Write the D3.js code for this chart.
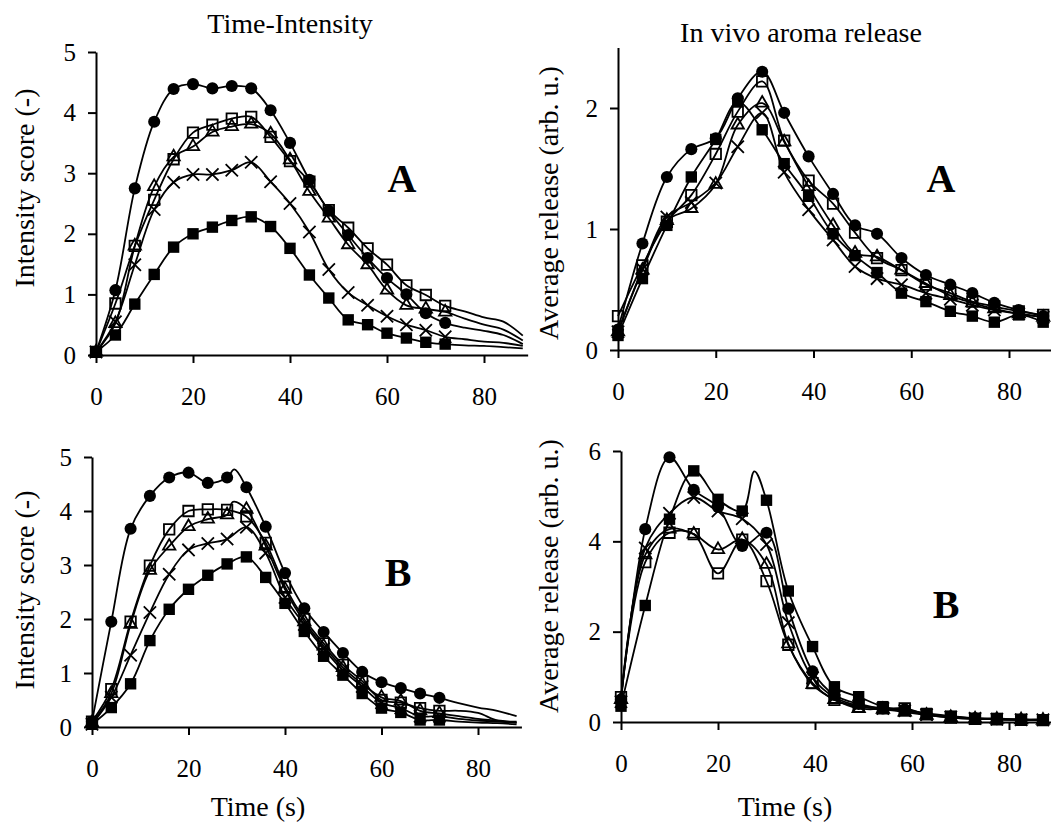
<!DOCTYPE html>
<html lang="en">
<head>
<meta charset="UTF-8">
<title>Time-Intensity and in vivo aroma release</title>
<script src="https://d3js.org/d3.v7.min.js"></script>
<style>
  body { margin: 0; background: #fff; }
  svg { display: block; font-family: "Liberation Serif", "Times New Roman", serif; }
  .axis path, .axis line { stroke: #000; stroke-width: 2; }
  .axis text { font-size: 25px; fill: #000; font-family: "Liberation Serif", "Times New Roman", serif; }
</style>
</head>
<body>
<script>
// ---- Time-Intensity, panel A (markers every 4 s) ----
const tiTimes = [0, 4, 8, 12, 16, 20, 24, 28, 32, 36, 40, 44, 48, 52, 56, 60, 64, 68, 72];
const tiTailTimes = [76, 80, 84, 88];
const tiA_fillCircle = [0.05, 1.07, 2.75, 3.85, 4.39, 4.47, 4.40, 4.44, 4.40, 4.04, 3.50, 2.89, 2.38, 1.98, 1.60, 1.27, 1.00, 0.69, 0.53];
const tiA_openSquare = [0.05, 0.85, 1.80, 2.56, 3.23, 3.67, 3.80, 3.90, 3.93, 3.60, 3.20, 2.86, 2.39, 2.10, 1.76, 1.49, 1.15, 0.99, 0.81];
const tiA_triangle   = [0.05, 0.52, 1.80, 2.78, 3.27, 3.44, 3.68, 3.77, 3.81, 3.65, 3.22, 2.70, 2.26, 1.82, 1.49, 1.07, 0.82, 0.76, 0.71];
const tiA_cross      = [0.05, 0.55, 1.49, 2.40, 2.85, 2.98, 2.98, 3.05, 3.18, 2.86, 2.50, 2.03, 1.41, 1.03, 0.82, 0.64, 0.50, 0.41, 0.30];
const tiA_fillSquare = [0.05, 0.33, 0.84, 1.33, 1.78, 2.00, 2.11, 2.22, 2.28, 2.12, 1.76, 1.32, 0.94, 0.58, 0.50, 0.36, 0.28, 0.21, 0.18];
const tiA_fillCircleTail = [0.45, 0.40, 0.33, 0.18];
const tiA_openSquareTail = [0.72, 0.62, 0.55, 0.32];
const tiA_triangleTail   = [0.60, 0.50, 0.42, 0.24];
const tiA_crossTail      = [0.26, 0.22, 0.20, 0.15];
const tiA_fillSquareTail = [0.16, 0.15, 0.13, 0.11];

// ---- Time-Intensity, panel B ----
const tiB_fillCircle = [0.10, 1.95, 3.67, 4.28, 4.62, 4.71, 4.52, 4.62, 4.44, 3.71, 2.85, 2.20, 1.76, 1.37, 1.02, 0.83, 0.72, 0.62, 0.54];
const tiB_openSquare = [0.10, 0.70, 1.95, 2.99, 3.66, 4.00, 4.03, 4.02, 3.90, 3.41, 2.60, 2.00, 1.55, 1.15, 0.85, 0.50, 0.45, 0.35, 0.30];
const tiB_triangle   = [0.08, 0.62, 1.90, 2.90, 3.35, 3.71, 3.85, 3.93, 4.03, 3.35, 2.55, 1.95, 1.50, 1.10, 0.80, 0.55, 0.48, 0.30, 0.25];
const tiB_cross      = [0.05, 0.55, 1.33, 2.12, 2.83, 3.28, 3.40, 3.48, 3.70, 3.22, 2.40, 1.90, 1.45, 1.05, 0.75, 0.45, 0.35, 0.20, 0.20];
const tiB_fillSquare = [0.05, 0.36, 0.80, 1.60, 2.18, 2.55, 2.81, 3.02, 3.15, 2.77, 2.29, 1.77, 1.31, 0.96, 0.62, 0.35, 0.27, 0.13, 0.13];
const tiB_fillCircleTail = [0.44, 0.36, 0.30, 0.20];
const tiB_openSquareTail = [0.30, 0.26, 0.12, 0.10];
const tiB_triangleTail   = [0.20, 0.15, 0.12, 0.08];
const tiB_crossTail      = [0.15, 0.12, 0.10, 0.08];
const tiB_fillSquareTail = [0.10, 0.08, 0.07, 0.05];
const tiB_fillCircleExtra = [[29.5, 4.77]];
const tiB_triangleExtra   = [[29.2, 4.17]];

// ---- In vivo aroma release, panel A (markers about every 5 s) ----
const arTimesA = [0, 5, 10, 15, 20, 24.5, 29.5, 34, 39, 44, 48.5, 53, 58, 63, 68, 72.5, 77, 82, 87];
const arA_fillCircle = [0.17, 0.88, 1.43, 1.66, 1.75, 2.08, 2.30, 1.96, 1.60, 1.29, 1.03, 0.96, 0.76, 0.62, 0.54, 0.47, 0.39, 0.33, 0.28];
const arA_openSquare = [0.28, 0.70, 1.06, 1.28, 1.62, 1.97, 2.22, 1.73, 1.40, 1.21, 0.97, 0.76, 0.66, 0.54, 0.47, 0.40, 0.36, 0.32, 0.29];
const arA_triangle   = [0.15, 0.66, 1.07, 1.17, 1.37, 1.86, 2.04, 1.72, 1.35, 1.03, 0.80, 0.77, 0.66, 0.55, 0.45, 0.39, 0.34, 0.30, 0.27];
const arA_cross      = [0.15, 0.67, 1.10, 1.22, 1.38, 1.68, 1.96, 1.47, 1.16, 0.91, 0.69, 0.59, 0.54, 0.47, 0.42, 0.37, 0.33, 0.30, 0.27];
const arA_fillSquare = [0.12, 0.59, 1.03, 1.43, 1.74, 2.05, 1.82, 1.54, 1.27, 0.96, 0.78, 0.64, 0.47, 0.40, 0.32, 0.28, 0.23, 0.29, 0.23];

// ---- In vivo aroma release, panel B ----
const arTimesB = [0, 5, 10, 15, 20, 25, 30, 34.5, 39.5, 44, 49, 54, 58.5, 63, 68, 73, 77.5, 82.5, 87];
const arB_fillCircle = [0.50, 4.27, 5.86, 5.14, 4.76, 3.90, 4.19, 2.51, 1.12, 0.60, 0.40, 0.30, 0.28, 0.18, 0.12, 0.08, 0.06, 0.05, 0.05];
const arB_openSquare = [0.55, 3.54, 4.19, 4.16, 3.29, 4.04, 3.12, 1.71, 0.86, 0.49, 0.34, 0.30, 0.30, 0.17, 0.10, 0.07, 0.06, 0.05, 0.04];
const arB_triangle   = [0.50, 3.70, 4.27, 4.16, 3.82, 4.04, 3.49, 1.73, 0.83, 0.50, 0.30, 0.28, 0.22, 0.15, 0.10, 0.07, 0.06, 0.05, 0.04];
const arB_cross      = [0.45, 3.85, 4.62, 4.97, 4.67, 4.50, 3.93, 2.20, 0.98, 0.55, 0.36, 0.30, 0.25, 0.16, 0.11, 0.08, 0.06, 0.05, 0.05];
const arB_fillSquare = [0.35, 2.58, 4.49, 5.56, 4.93, 4.67, 4.91, 2.90, 1.67, 0.78, 0.56, 0.34, 0.25, 0.19, 0.13, 0.08, 0.08, 0.05, 0.05];
const arB_fillSquareExtra = [[27.5, 5.55]];

const xTicks = [0, 20, 40, 60, 80];

const W = 1051, H = 825;
const svg = d3.select('body').append('svg').attr('width', W).attr('height', H);

// turn arrays into one series object
function series(times, values, shape, tailTimes, tail, extra) {
  const marks = times.map((t, i) => [t, values[i]]);
  let pts = marks.slice();
  if (tailTimes && tail) pts = pts.concat(tailTimes.map((t, i) => [t, tail[i]]));
  if (extra) pts = pts.concat(extra);
  pts.sort((a, b) => a[0] - b[0]);
  return { marks, pts, shape };
}

const symbols = {
  fillCircle: { type: d3.symbolCircle, size: 115, fill: '#000', stroke: 'none' },
  fillSquare: { type: d3.symbolSquare, size: 130, fill: '#000', stroke: 'none' },
  openSquare: { type: d3.symbolSquare, size: 110, fill: 'none', stroke: '#000' },
  triangle:   { type: d3.symbolTriangle, size: 66, fill: 'none', stroke: '#000' },
  cross:      { type: d3.symbolTimes, size: 100, fill: 'none', stroke: '#000' }
};

function panel(cfg, list) {
  const x = d3.scaleLinear().domain([0, cfg.xMax]).range([cfg.x0, cfg.x0 + cfg.k * cfg.xMax]);
  const y = d3.scaleLinear().domain([0, cfg.yMax]).range([cfg.yBottom, cfg.yTop]);
  const g = svg.append('g');

  g.append('g').attr('class', 'axis')
    .attr('transform', `translate(0,${cfg.yBottom})`)
    .call(d3.axisBottom(x).tickValues(xTicks).tickSize(8).tickSizeOuter(0).tickPadding(24));
  g.append('g').attr('class', 'axis')
    .attr('transform', `translate(${cfg.x0},0)`)
    .call(d3.axisLeft(y).tickValues(cfg.yTicks).tickFormat(d3.format('d')).tickSize(8).tickSizeOuter(0).tickPadding(12));

  const line = d3.line().x(d => x(d[0])).y(d => y(d[1])).curve(d3.curveCatmullRom.alpha(0.5));
  list.forEach(s => {
    g.append('path').datum(s.pts).attr('d', line)
      .attr('fill', 'none').attr('stroke', '#000').attr('stroke-width', 1.8);
  });
  list.forEach(s => {
    const sym = symbols[s.shape];
    g.selectAll(null).data(s.marks).enter().append('path')
      .attr('transform', d => `translate(${x(d[0])},${y(d[1])})`)
      .attr('d', d3.symbol().type(sym.type).size(sym.size))
      .attr('fill', sym.fill).attr('stroke', sym.stroke).attr('stroke-width', 1.8);
  });

  g.append('text').attr('x', cfg.letterX).attr('y', cfg.letterY)
    .attr('text-anchor', 'middle').attr('font-weight', 'bold').attr('font-size', 40)
    .text(cfg.letter);
  g.append('text')
    .attr('transform', `translate(${cfg.labelX},${cfg.labelY}) rotate(-90)`)
    .attr('text-anchor', 'middle').attr('font-size', 28)
    .text(cfg.yLabel);
}

panel({ x0: 96, k: 4.85, xMax: 89, yBottom: 355, yTop: 52, yMax: 5, yTicks: [0, 1, 2, 3, 4, 5],
        letter: 'A', letterX: 402, letterY: 192, yLabel: 'Intensity score (-)', labelX: 34, labelY: 188 }, [
  series(tiTimes, tiA_openSquare, 'openSquare', tiTailTimes, tiA_openSquareTail),
  series(tiTimes, tiA_triangle, 'triangle', tiTailTimes, tiA_triangleTail),
  series(tiTimes, tiA_cross, 'cross', tiTailTimes, tiA_crossTail),
  series(tiTimes, tiA_fillCircle, 'fillCircle', tiTailTimes, tiA_fillCircleTail),
  series(tiTimes, tiA_fillSquare, 'fillSquare', tiTailTimes, tiA_fillSquareTail)
]);

panel({ x0: 92, k: 4.825, xMax: 89, yBottom: 727, yTop: 457, yMax: 5, yTicks: [0, 1, 2, 3, 4, 5],
        letter: 'B', letterX: 398, letterY: 586, yLabel: 'Intensity score (-)', labelX: 34, labelY: 590 }, [
  series(tiTimes, tiB_openSquare, 'openSquare', tiTailTimes, tiB_openSquareTail),
  series(tiTimes, tiB_triangle, 'triangle', tiTailTimes, tiB_triangleTail, tiB_triangleExtra),
  series(tiTimes, tiB_cross, 'cross', tiTailTimes, tiB_crossTail),
  series(tiTimes, tiB_fillCircle, 'fillCircle', tiTailTimes, tiB_fillCircleTail, tiB_fillCircleExtra),
  series(tiTimes, tiB_fillSquare, 'fillSquare', tiTailTimes, tiB_fillSquareTail)
]);

panel({ x0: 618, k: 4.8875, xMax: 88.6, yBottom: 350, yTop: 47.5, yMax: 2.5, yTicks: [0, 1, 2],
        letter: 'A', letterX: 941, letterY: 192, yLabel: 'Average release (arb. u.)', labelX: 558, labelY: 203 }, [
  series(arTimesA, arA_openSquare, 'openSquare'),
  series(arTimesA, arA_triangle, 'triangle'),
  series(arTimesA, arA_cross, 'cross'),
  series(arTimesA, arA_fillCircle, 'fillCircle'),
  series(arTimesA, arA_fillSquare, 'fillSquare')
]);

panel({ x0: 621, k: 4.85, xMax: 88.6, yBottom: 722, yTop: 451, yMax: 6, yTicks: [0, 2, 4, 6],
        letter: 'B', letterX: 946, letterY: 618, yLabel: 'Average release (arb. u.)', labelX: 558, labelY: 576 }, [
  series(arTimesB, arB_openSquare, 'openSquare'),
  series(arTimesB, arB_triangle, 'triangle'),
  series(arTimesB, arB_cross, 'cross'),
  series(arTimesB, arB_fillCircle, 'fillCircle'),
  series(arTimesB, arB_fillSquare, 'fillSquare', null, null, arB_fillSquareExtra)
]);

// column titles and x-axis titles
svg.append('text').attr('x', 290).attr('y', 33).attr('text-anchor', 'middle').attr('font-size', 28).text('Time-Intensity');
svg.append('text').attr('x', 801).attr('y', 42).attr('text-anchor', 'middle').attr('font-size', 28).text('In vivo aroma release');
svg.append('text').attr('x', 258).attr('y', 816).attr('text-anchor', 'middle').attr('font-size', 28).text('Time (s)');
svg.append('text').attr('x', 785).attr('y', 816).attr('text-anchor', 'middle').attr('font-size', 28).text('Time (s)');
</script>
</body>
</html>
